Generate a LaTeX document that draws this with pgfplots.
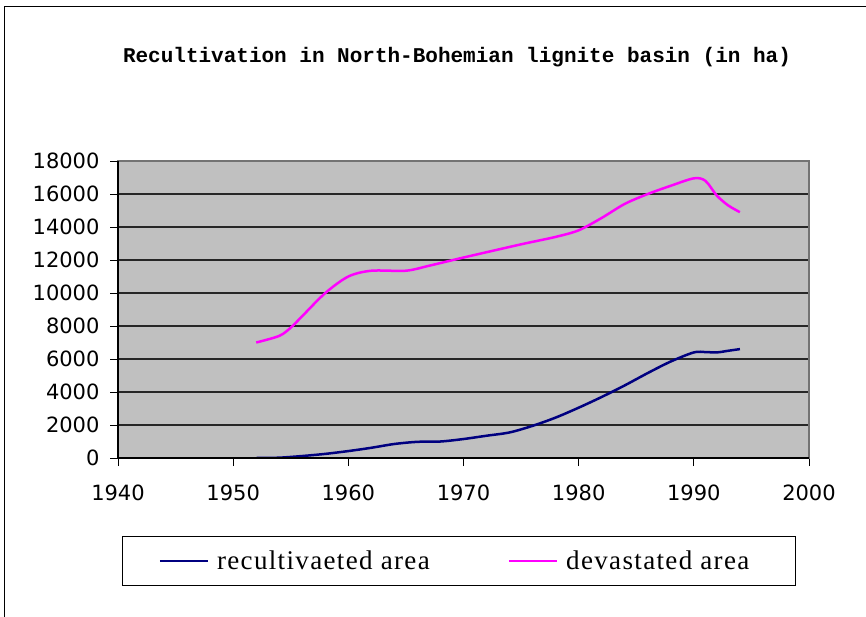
\documentclass[border=0pt]{standalone}
\usepackage{pgfplots}
\pgfplotsset{compat=1.18}
\usepackage{fontspec}
\setmainfont{Liberation Serif}
\newfontfamily\tickfont{DejaVu Sans}
\newfontfamily\titlefont{Liberation Mono}
\newfontfamily\legfont[LetterSpace=5]{Liberation Serif}
\definecolor{plotgray}{HTML}{C0C0C0}
\definecolor{navyline}{HTML}{000080}
\definecolor{magline}{HTML}{FF00FF}
\begin{document}
\begin{tikzpicture}[x=1pt,y=1pt]
\path[use as bounding box] (0,0) rectangle (866,-617);
\draw[line width=1.5pt] (4.5,-617) -- (4.5,-6.5) -- (866,-6.5);
\node[font=\titlefont\bfseries\fontsize{21}{22}\selectfont] at (457,-57) {Recultivation in North-Bohemian lignite basin (in ha)};
\begin{axis}[
  at={(118pt,-458pt)}, anchor=south west,
  width=691pt, height=297pt, scale only axis,
  xmin=1940, xmax=2000, ymin=0, ymax=18000,
  xtick={1940,1950,...,2000},
  ytick={0,2000,...,18000},
  scaled y ticks=false,
  xtick pos=bottom, ytick pos=left,
  tick align=outside, major tick length=8pt,
  tick style={black, line width=1pt},
  axis background/.style={fill=plotgray},
  axis line style={draw=gray!90!black, line width=1.2pt},
  ymajorgrids, major grid style={black!85, line width=1.2pt},
  /pgf/number format/assume math mode=true,
  /pgf/number format/1000 sep={},
  ticklabel style={font=\tickfont\fontsize{21}{21}\selectfont},
  yticklabel style={xshift=-7pt},
  xticklabel style={yshift=-15pt},
  legend style={at={(rel axis cs:0.0058,-0.2626)}, anchor=north west,
    draw=black, line width=1pt, inner xsep=36pt, inner ysep=12.5pt,
    font=\legfont\fontsize{27}{30}\selectfont,
    /tikz/every even column/.append style={column sep=76pt}},
  legend columns=2,
  legend image code/.code={\draw[#1, line width=2.5pt] (0pt,0pt) -- (48pt,0pt); \path (54pt,0pt);},
  extra description/.code={\draw[black,line width=1.5pt] (0,1) -- (0,0) -- (1,0);},
]
\addplot[navyline, line width=2.5pt, smooth, tension=0.5] coordinates {
(1952,0) (1954,20) (1956,120) (1958,250) (1960,420) (1962,620) (1964,850)
(1966,980) (1968,1000) (1970,1150) (1972,1350) (1974,1550) (1976,1950)
(1978,2450) (1980,3050) (1982,3700) (1984,4400) (1986,5150) (1988,5850)
(1990,6400) (1991,6420) (1992,6400) (1993,6500) (1994,6600)};
\addlegendentry{recultivaeted area}
\addplot[magline, line width=2.5pt, smooth, tension=0.5] coordinates {
(1952,7000) (1954,7400) (1955,7900) (1956,8600) (1958,10000) (1960,11000)
(1962,11350) (1965,11350) (1967,11650) (1970,12150) (1975,12950) (1978,13400)
(1980,13800) (1982,14550) (1984,15400) (1986,16000) (1988,16500) (1990,16950)
(1991,16800) (1992,15900) (1993,15300) (1994,14900)};
\addlegendentry{devastated area\rule{8pt}{0pt}}
\end{axis}
\end{tikzpicture}
\end{document}
